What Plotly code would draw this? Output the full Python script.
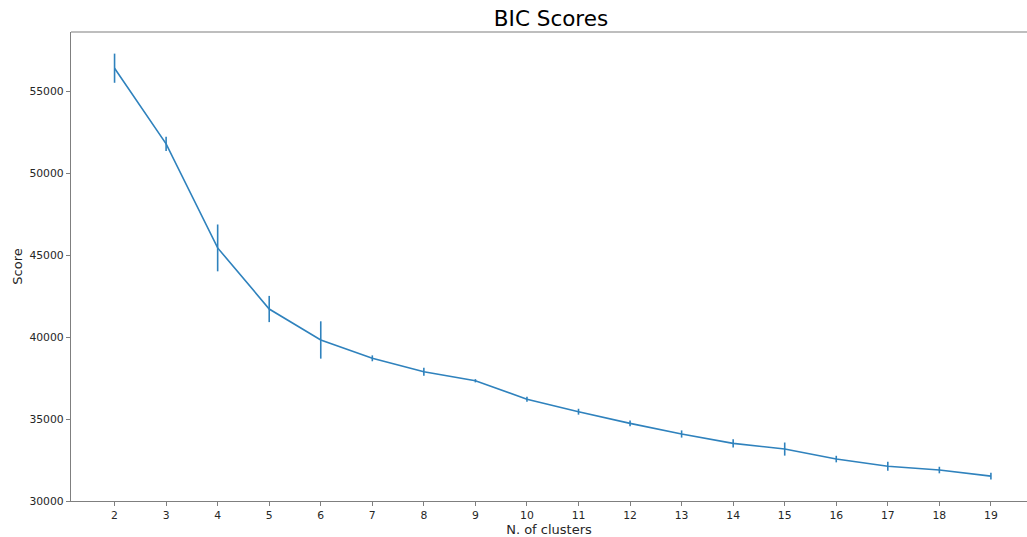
import plotly.graph_objects as go

n_clusters = [2, 3, 4, 5, 6, 7, 8, 9, 10, 11, 12, 13, 14, 15, 16, 17, 18, 19]
bic_mean = [56420, 51800, 45450, 41720, 39830, 38710, 37890, 37340, 36210, 35450,
            34740, 34090, 33520, 33170, 32560, 32120, 31890, 31520]
bic_err = [890, 430, 1430, 800, 1140, 180, 240, 100, 150, 180,
           180, 220, 250, 400, 200, 280, 200, 200]
y_ticks = [30000, 35000, 40000, 45000, 50000, 55000]

blue = "#2f82bd"
axis_col = "#7f7f7f"
font_family = "DejaVu Sans"

fig = go.Figure()
fig.add_trace(go.Scatter(
    x=n_clusters, y=bic_mean, mode="lines",
    line=dict(color=blue, width=1.6),
    error_y=dict(type="data", array=bic_err, visible=True, width=0,
                 thickness=1.6, color=blue),
    showlegend=False,
))

fig.update_layout(
    width=1027, height=537,
    margin=dict(l=71, r=0, t=32, b=36),
    paper_bgcolor="white", plot_bgcolor="white",
    font=dict(family=font_family, size=10.8, color="#262626"),
    title=dict(text="BIC Scores", font=dict(size=21.5, color="#000000"),
               x=551 / 1027, xref="container", xanchor="center",
               y=1 - 18 / 537, yref="container", yanchor="middle"),
)
fig.update_xaxes(
    range=[1.155, 19.70], tickmode="array", tickvals=n_clusters,
    ticktext=[str(v) for v in n_clusters],
    showgrid=False, zeroline=False,
    showline=True, linecolor=axis_col, linewidth=1.2, mirror=False,
    ticks="outside", ticklen=4, tickwidth=1, tickcolor=axis_col,
    title=dict(text="N. of clusters", standoff=3),
)
fig.update_yaxes(
    range=[30000, 58630], tickmode="array", tickvals=y_ticks,
    ticktext=[str(v) for v in y_ticks],
    showgrid=False, zeroline=False,
    showline=True, linecolor=axis_col, linewidth=1.2,
    ticks="outside", ticklen=4, tickwidth=1, tickcolor=axis_col,
    title=dict(text="Score", standoff=3),
)
# top spine
fig.add_shape(type="line", xref="paper", yref="paper", x0=0, x1=1, y0=1, y1=1,
              line=dict(color=axis_col, width=1.2))

fig.write_html("out.html")
